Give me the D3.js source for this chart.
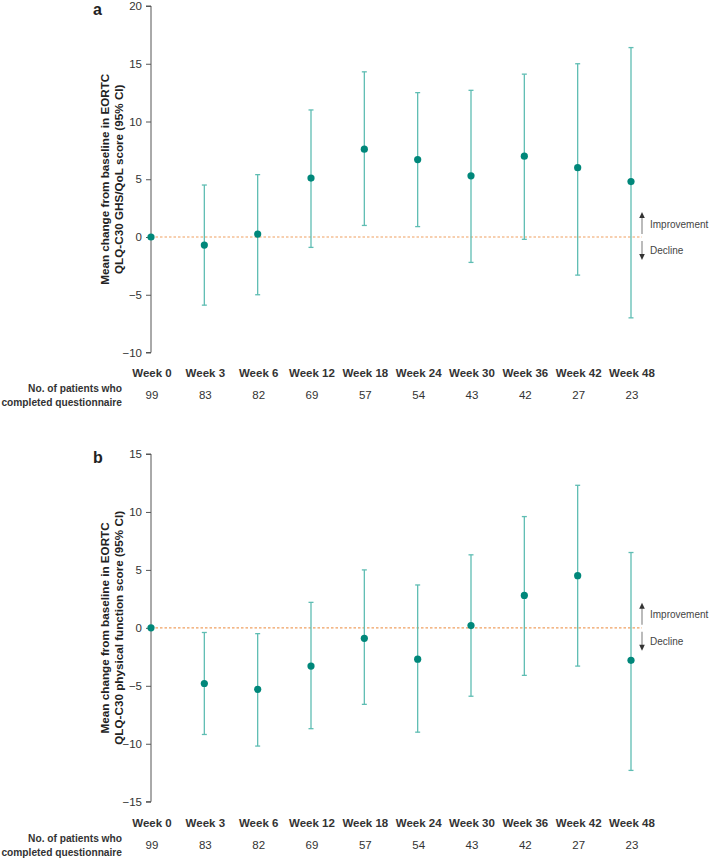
<!DOCTYPE html>
<html><head><meta charset="utf-8">
<script src="https://cdn.jsdelivr.net/npm/d3@7"></script>
<style>body{margin:0;background:#fff;font-family:"Liberation Sans",Arial,sans-serif;}</style>
</head><body><div id="chart"></div>
<script>
const weeks = ["Week 0","Week 3","Week 6","Week 12","Week 18","Week 24","Week 30","Week 36","Week 42","Week 48"];
const patients = [99,83,82,69,57,54,43,42,27,23];
const ghsMean  = [0,-0.7,0.25,5.1,7.6,6.7,5.3,7.0,6.0,4.8];
const ghsLower = [0,-5.9,-5.0,-0.9,1.0,0.9,-2.2,-0.2,-3.3,-7.0];
const ghsUpper = [0,4.5,5.4,11.0,14.3,12.5,12.7,14.1,15.0,16.4];
const pfMean  = [0,-4.8,-5.3,-3.3,-0.9,-2.7,0.2,2.8,4.5,-2.8];
const pfLower = [0,-9.2,-10.2,-8.7,-6.6,-9.0,-5.9,-4.1,-3.3,-12.3];
const pfUpper = [0,-0.4,-0.5,2.2,5.0,3.7,6.3,9.6,12.3,6.5];
const ghsTicks = [-10,-5,0,5,10,15,20];
const pfTicks = [-15,-10,-5,0,5,10,15];

const W=710,H=858;
const svg=d3.select("#chart").append("svg").attr("width",W).attr("height",H);
const x=d3.scalePoint().domain(weeks).range([151,631]);
const teal="#00877a", bar="#5fbdb3", txt="#333";

function panel(o){
  const g=svg.append("g");
  const y=d3.scaleLinear().domain(o.domain).range([o.bottom,o.top]);
  g.append("text").attr("x",93).attr("y",o.top+9).attr("font-size",16).attr("font-weight","bold").attr("fill","#222").text(o.letter);
  const ax=g.append("g").attr("transform","translate(151,0)")
    .call(d3.axisLeft(y).tickValues(o.ticks).tickSize(5).tickPadding(4).tickFormat(d=>d<0?"\u2212"+Math.abs(d):d));
  ax.select(".domain").attr("stroke","#555").attr("d",`M-5,${y(o.domain[0])}H0V${y(o.domain[1])}H-5`);
  ax.selectAll(".tick line").attr("stroke","#555");
  ax.selectAll(".tick text").attr("font-size",11.5).attr("fill",txt).attr("font-family","Liberation Sans, Arial, sans-serif");
  const cy=(o.top+o.bottom)/2;
  const t=g.append("text").attr("transform",`translate(109,${cy}) rotate(-90)`).attr("text-anchor","middle")
    .attr("font-size",11.7).attr("font-weight","bold").attr("fill","#222");
  t.append("tspan").attr("x",0).attr("dy",0).text(o.title[0]);
  t.append("tspan").attr("x",0).attr("dy",14).text(o.title[1]);
  g.append("line").attr("x1",151).attr("x2",642).attr("y1",y(0)).attr("y2",y(0))
    .attr("stroke","#f0a060").attr("stroke-width",1.2).attr("stroke-dasharray","2.5,2");
  const data=weeks.map((w,i)=>({w,m:o.mean[i],lo:o.lower[i],hi:o.upper[i]}));
  const eb=g.selectAll(".eb").data(data.filter(d=>d.hi!==d.lo)).enter().append("g");
  eb.append("line").attr("x1",d=>x(d.w)).attr("x2",d=>x(d.w)).attr("y1",d=>y(d.lo)).attr("y2",d=>y(d.hi)).attr("stroke",bar).attr("stroke-width",1.3);
  eb.append("line").attr("x1",d=>x(d.w)-2.5).attr("x2",d=>x(d.w)+2.5).attr("y1",d=>y(d.lo)).attr("y2",d=>y(d.lo)).attr("stroke",bar).attr("stroke-width",1.3);
  eb.append("line").attr("x1",d=>x(d.w)-2.5).attr("x2",d=>x(d.w)+2.5).attr("y1",d=>y(d.hi)).attr("y2",d=>y(d.hi)).attr("stroke",bar).attr("stroke-width",1.3);
  g.selectAll(".pt").data(data).enter().append("circle").attr("cx",d=>x(d.w)).attr("cy",d=>y(d.m)).attr("r",3.6).attr("fill",teal);
  const ax0=642, z=y(0);
  g.append("line").attr("x1",ax0).attr("x2",ax0).attr("y1",z-3).attr("y2",z-20).attr("stroke","#aaa").attr("stroke-width",1.6);
  g.append("path").attr("d",`M${ax0-2.8},${z-19}L${ax0},${z-25}L${ax0+2.8},${z-19}Z`).attr("fill","#333");
  g.append("line").attr("x1",ax0).attr("x2",ax0).attr("y1",z+4).attr("y2",z+18).attr("stroke","#aaa").attr("stroke-width",1.6);
  g.append("path").attr("d",`M${ax0-2.8},${z+17}L${ax0},${z+23}L${ax0+2.8},${z+17}Z`).attr("fill","#333");
  g.append("text").attr("x",650).attr("y",z-9.5).attr("font-size",10).attr("fill","#444").text("Improvement");
  g.append("text").attr("x",650).attr("y",z+17).attr("font-size",10).attr("fill","#444").text("Decline");
  g.selectAll(".wk").data(weeks).enter().append("text").attr("x",d=>x(d)+1).attr("y",o.rowY).attr("text-anchor","middle")
    .attr("font-size",11.5).attr("font-weight","bold").attr("fill",txt).text(d=>d);
  g.selectAll(".np").data(patients).enter().append("text").attr("x",(d,i)=>x(weeks[i])+1).attr("y",o.rowY+22).attr("text-anchor","middle")
    .attr("font-size",11.5).attr("fill",txt).text(d=>d);
  g.append("text").attr("x",122).attr("y",o.rowY+15).attr("text-anchor","end").attr("font-size",10.2).attr("font-weight","bold").attr("fill",txt).text("No. of patients who");
  g.append("text").attr("x",122).attr("y",o.rowY+29).attr("text-anchor","end").attr("font-size",10.2).attr("font-weight","bold").attr("fill",txt).text("completed questionnaire");
}
panel({letter:"a",domain:[-10,20],ticks:ghsTicks,top:6,bottom:352.5,mean:ghsMean,lower:ghsLower,upper:ghsUpper,rowY:377,
  title:["Mean change from baseline in EORTC","QLQ-C30 GHS/QoL score (95% CI)"]});
panel({letter:"b",domain:[-15,15],ticks:pfTicks,top:454,bottom:801.7,mean:pfMean,lower:pfLower,upper:pfUpper,rowY:827,
  title:["Mean change from baseline in EORTC","QLQ-C30 physical function score (95% CI)"]});
</script></body></html>
